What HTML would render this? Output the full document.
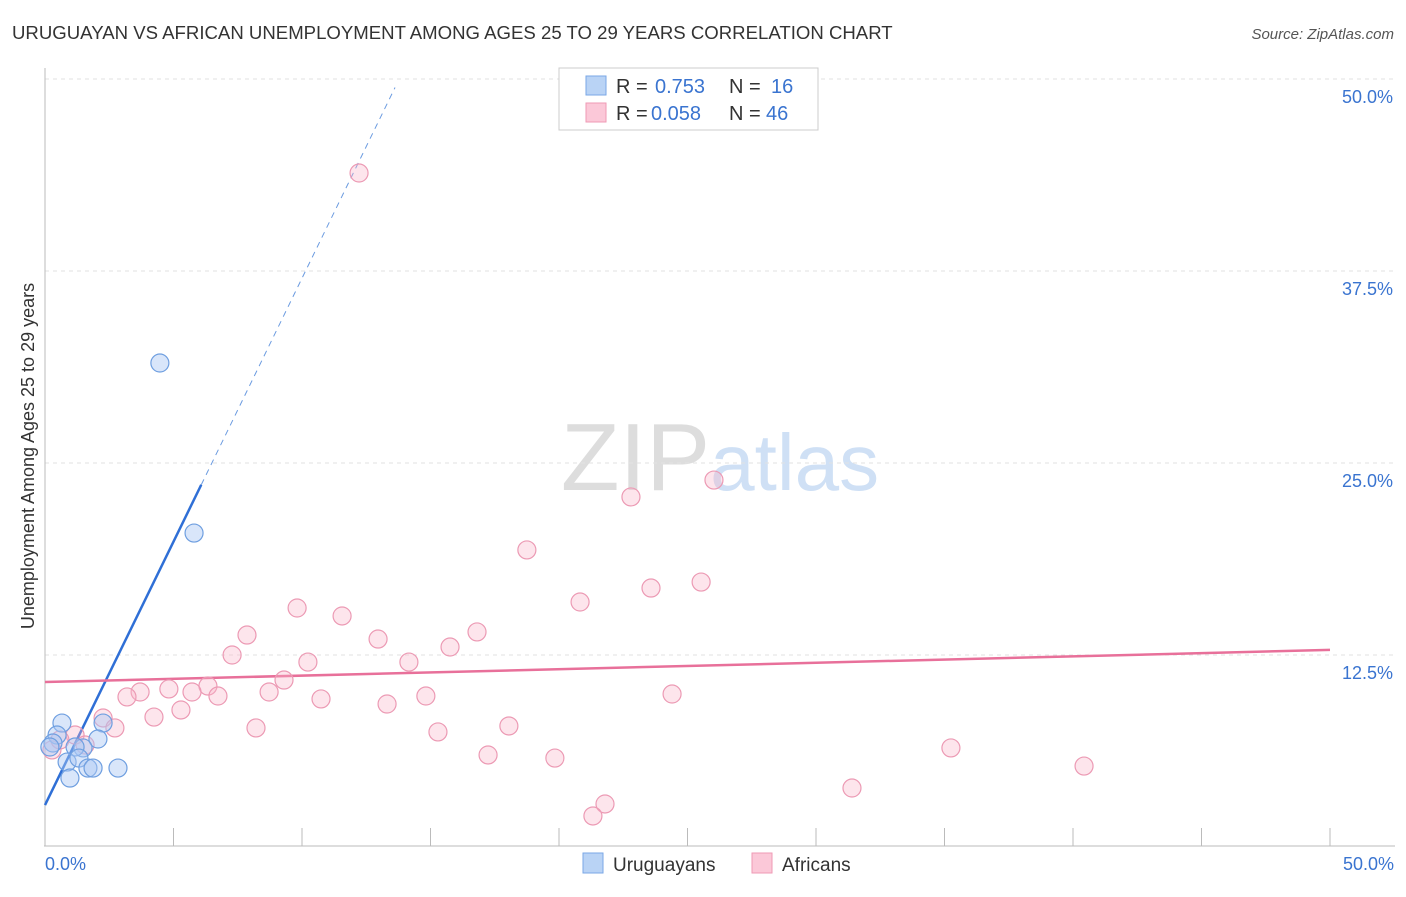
<!DOCTYPE html>
<html><head><meta charset="utf-8"><style>
body{margin:0;background:#fff;font-family:"Liberation Sans",sans-serif;}
svg text{font-family:"Liberation Sans",sans-serif;}
</style></head><body>
<svg id="chart" width="1406" height="892" xmlns="http://www.w3.org/2000/svg">
<text x="12" y="39" font-size="18.6" fill="#333">URUGUAYAN VS AFRICAN UNEMPLOYMENT AMONG AGES 25 TO 29 YEARS CORRELATION CHART</text>
<text x="1394" y="39" font-size="15" fill="#555" text-anchor="end" font-style="italic">Source: ZipAtlas.com</text>
<text x="720" y="490" font-size="96" fill="#ddd" text-anchor="middle" font-family="Liberation Serif">ZIP<tspan fill="#cfe0f5" font-family="Liberation Sans" font-size="80">atlas</tspan></text>
<text transform="translate(34,456) rotate(-90)" font-size="18" fill="#333" text-anchor="middle">Unemployment Among Ages 25 to 29 years</text>
<g id="grid"></g><g id="axes"></g><g id="lines"></g><g id="pts"></g>
<g>
<rect x="559" y="68" width="259" height="62" fill="#fff" stroke="#ccc"/>
<rect x="586" y="76" width="20" height="19" fill="#b9d3f5" stroke="#7aa7e6"/>
<rect x="586" y="103" width="20" height="19" fill="#fbc8d8" stroke="#ef9ab5"/>
<text x="616" y="93" font-size="20" fill="#333">R =</text>
<text x="655" y="93" font-size="20" fill="#3a74d0">0.753</text>
<text x="729" y="93" font-size="20" fill="#333">N =</text>
<text x="771" y="93" font-size="20" fill="#3a74d0">16</text>
<text x="616" y="120" font-size="20" fill="#333">R =</text>
<text x="651" y="120" font-size="20" fill="#3a74d0">0.058</text>
<text x="729" y="120" font-size="20" fill="#333">N =</text>
<text x="766" y="120" font-size="20" fill="#3a74d0">46</text>
</g>
<g>
<rect x="583" y="853" width="20" height="20" fill="#b9d3f5" stroke="#7aa7e6"/>
<text x="613" y="871" font-size="19" fill="#333">Uruguayans</text>
<rect x="752" y="853" width="20" height="20" fill="#fbc8d8" stroke="#ef9ab5"/>
<text x="782" y="871" font-size="19" fill="#333">Africans</text>
</g>
</svg>
<script>
const blueX=[0.66,0.47,0.31,2.26,2.06,1.48,1.17,0.86,1.32,1.67,1.87,2.84,0.97,0.19,4.47,5.80];
const blueY=[8.07,7.29,6.77,8.07,7.03,6.45,6.51,5.53,5.79,5.14,5.14,5.14,4.49,6.51,31.51,20.44];
const pinkX=[12.22,26.03,22.80,18.75,25.53,23.58,20.82,9.81,11.56,7.86,12.96,16.81,15.76,7.28,10.23,14.16,9.30,6.34,4.82,3.70,3.19,5.72,6.73,8.72,10.74,14.82,24.40,5.29,4.24,13.31,8.21,18.05,15.29,17.24,19.84,35.25,40.43,31.40,21.79,21.32,2.26,2.72,1.17,1.56,0.27,0.58];
const pinkY=[43.88,23.89,22.79,19.34,17.25,16.86,15.95,15.56,15.04,13.80,13.54,14.00,13.02,12.50,12.04,12.04,10.87,10.48,10.29,10.09,9.77,10.09,9.83,10.09,9.64,9.83,9.96,8.92,8.46,9.31,7.75,7.88,7.49,5.99,5.79,6.45,5.27,3.84,2.80,2.02,8.40,7.75,7.29,6.64,6.32,6.97];
const yTicks=[12.5,25,37.5,50];
const yTickLabels=["12.5%","25.0%","37.5%","50.0%"];
const blueLine=[2.73,3.43];
const blueSolidEnd=6.08, blueDashEnd=13.62;
const pinkLine=[10.74,12.83];
const NS="http://www.w3.org/2000/svg";
const X=v=>45+v*25.7, Y=v=>847-v*15.36;
function mk(p,t,a){const e=document.createElementNS(NS,t);for(const k in a)e.setAttribute(k,a[k]);document.getElementById(p).appendChild(e);return e;}
yTicks.forEach((t,i)=>{
 const g=mk('grid','line',{x1:45,x2:1395,y1:Y(t),y2:Y(t),stroke:'#e2e2e2','stroke-dasharray':'4,4'});
 
 
 const l=mk('axes','text',{x:1393,y:Y(t)+24,'font-size':18,fill:'#3a74d0','text-anchor':'end'});
 l.textContent=yTickLabels[i];
 
 
});
let ax=mk('axes','line',{x1:45,x2:45,y1:68,y2:846,stroke:'#bbb'});


ax=mk('axes','line',{x1:44,x2:1395,y1:846,y2:846,stroke:'#bbb'});


for(let i=1;i<=10;i++){const t=mk('axes','line',{x1:X(i*5),x2:X(i*5),y1:828,y2:846,stroke:'#bbb'});
 
 }
[[0,'0.0%','start',45],[50,'50.0%','end',1394]].forEach(a=>{const t=mk('axes','text',{x:a[3],y:870,'font-size':18,fill:'#3a74d0','text-anchor':a[2]});t.textContent=a[1];
 
 });
let ln=mk('lines','line',{x1:X(0),y1:Y(blueLine[0]),x2:X(blueSolidEnd),y2:Y(blueLine[0]+blueLine[1]*blueSolidEnd),stroke:'#2f6fd6','stroke-width':2.5});


ln=mk('lines','line',{x1:X(blueSolidEnd),y1:Y(blueLine[0]+blueLine[1]*blueSolidEnd),x2:X(blueDashEnd),y2:Y(blueLine[0]+blueLine[1]*blueDashEnd),stroke:'#6b9be0','stroke-width':1,'stroke-dasharray':'6,5'});


ln=mk('lines','line',{x1:X(0),y1:Y(pinkLine[0]),x2:X(50),y2:Y(pinkLine[1]),stroke:'#e8709a','stroke-width':2.5});


pinkX.forEach((v,i)=>{const c=mk('pts','circle',{cx:X(v),cy:Y(pinkY[i]),r:9,fill:'rgba(248,180,200,0.35)',stroke:'#ec9ab4','stroke-width':1.2});
 
 });
blueX.forEach((v,i)=>{const c=mk('pts','circle',{cx:X(v),cy:Y(blueY[i]),r:9,fill:'rgba(170,200,245,0.45)',stroke:'#6f9fe0','stroke-width':1.2});
 
 });
</script>
</body></html>
